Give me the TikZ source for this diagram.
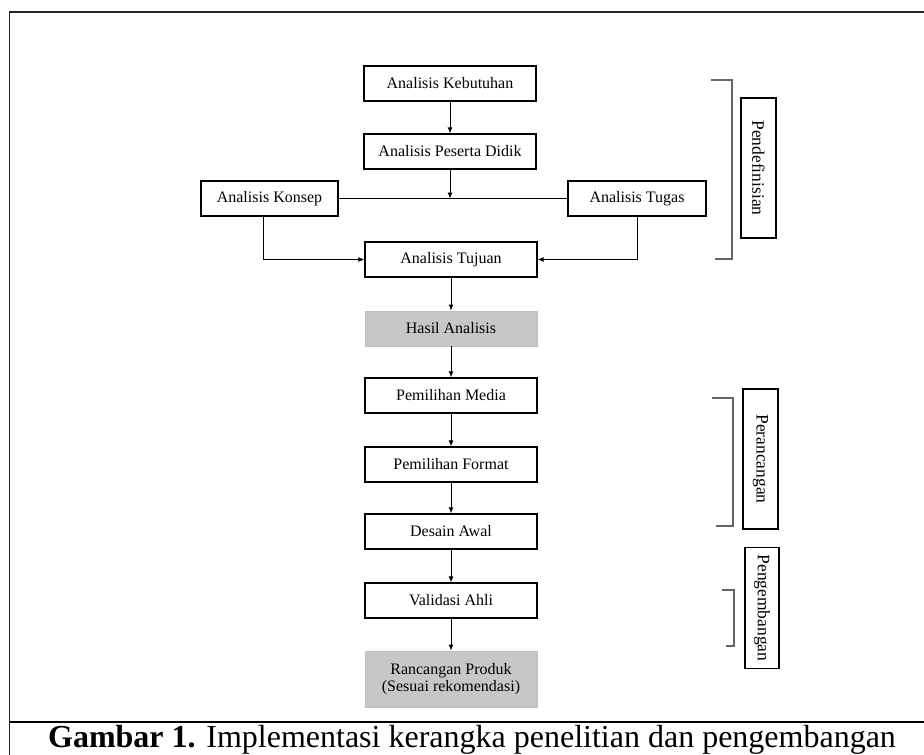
\documentclass[tikz,border=0pt]{standalone}
\usepackage{fontspec}
\setmainfont{Liberation Serif}
\usetikzlibrary{arrows.meta,positioning}

\tikzset{
  stepbox/.style={draw=black, line width=1.2pt, fill=white, minimum width=172pt, minimum height=35pt,
    inner sep=0pt, align=center, font=\fontsize{16}{17.5}\selectfont},
  resultbox/.style={stepbox, draw=black!25, line width=0.8pt, fill=black!22},
  phasebox/.style={draw=black, line width=1.2pt, minimum height=35pt, inner sep=0pt,
    rotate=-90, font=\fontsize{17.5}{19}\selectfont},
  arr/.style={-{Latex[length=6pt,width=5pt]}, line width=0.9pt},
  link/.style={line width=0.9pt},
  bracket/.style={line width=1.1pt, draw=black!60},
}

\begin{document}
\begin{tikzpicture}[x=1pt,y=-1pt]
			\clip (0,0) rectangle (924,755);
			\useasboundingbox (0,0) rectangle (924,755);
			% frame and caption
			\draw[line width=1.2pt, black!85] (9.5,770) -- (9.5,12) -- (940,12);
			\draw[line width=1.2pt] (9.5,722) -- (940,722);
			\node[anchor=base, font=\fontsize{32}{36}\selectfont] (cap) at (472,747.5)
			  {\textbf{Gambar 1.} Implementasi kerangka penelitian dan pengembangan};
			% analysis boxes
			\node[stepbox] (kebutuhan) at (450,83.5) {Analisis Kebutuhan};
			\node[stepbox] (peserta) at (450,151.5) {Analisis Peserta Didik};
			\node[stepbox, minimum width=137pt] (konsep) at (269.5,198.5) {Analisis Konsep};
			\node[stepbox, minimum width=138pt] (tugas) at (637,198.5) {Analisis Tugas};
			\node[stepbox] (tujuan) at (451,259.5) {Analisis Tujuan};
			\node[resultbox] (hasil) at (451,328.5) {Hasil Analisis};
			% design boxes
			\node[stepbox] (media) at (451,395.5) {Pemilihan Media};
			\node[stepbox] (format) at (451,464.5) {Pemilihan Format};
			\node[stepbox] (desain) at (451,531.5) {Desain Awal};
			\node[stepbox] (validasi) at (451,600.5) {Validasi Ahli};
			\node[resultbox, minimum height=56pt] (rancangan) at (451,679)
			  {Rancangan Produk\\(Sesuai rekomendasi)};
			% connectors
			\draw[arr] (kebutuhan) -- (peserta);
			\draw[link] (konsep.east) -- (tugas.west);
			\draw[arr] (peserta) -- (peserta |- konsep);
			\draw[arr] ([xshift=-6.5pt]konsep.south) |- (tujuan.west);
			\draw[arr] (tugas.south) |- (tujuan.east);
			\draw[arr] (tujuan) -- (hasil);
			\draw[arr] (hasil) -- (media);
			\draw[arr] (media) -- (format);
			\draw[arr] (format) -- (desain);
			\draw[arr] (desain) -- (validasi);
			\draw[arr] (validasi) -- (rancangan);
			% phases
			\draw[bracket] (711,80) -| (732,259) -- (715,259);
			\node[phasebox, minimum width=140pt] (pendefinisian) at (758.5,168) {Pendefinisian};
			\draw[bracket] (712,398) -| (733,526) -- (716,526);
			\node[phasebox, minimum width=140pt] (perancangan) at (760.5,459) {Perancangan};
			\draw[bracket] (722,590) -| (734,646) -- (726,646);
			\node[phasebox, minimum width=121pt, minimum height=34pt] (pengembangan) at (762,608) {Pengembangan};
		\end{tikzpicture}
\end{document}
